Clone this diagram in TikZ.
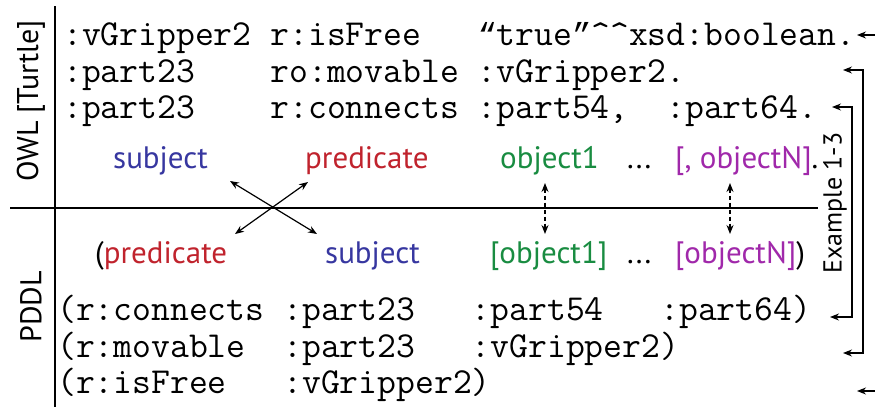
\documentclass[tikz,border=0pt]{standalone}
\usepackage{fontspec}
\setsansfont{PT Sans}
\newfontfamily\qfont{Liberation Mono}
\usetikzlibrary{arrows.meta}
\definecolor{cblue}{RGB}{55,55,160}
\definecolor{cred}{RGB}{192,35,45}
\definecolor{cgreen}{RGB}{25,140,65}
\definecolor{cpurple}{RGB}{160,40,170}
\newcommand{\myLQ}{{\qfont\fontsize{31.8}{40}\selectfont “}}
\newcommand{\myRQ}{{\qfont\fontsize{31.8}{40}\selectfont ”}}
\begin{document}
\begin{tikzpicture}[x=1pt,y=-1pt,
  code/.style={font=\ttfamily\fontsize{36.6}{40}\selectfont, anchor=base west, inner sep=0pt},
  lab/.style={font=\sffamily\fontsize{31}{34}\selectfont, anchor=base west, inner sep=0pt},
  side/.style={font=\sffamily\fontsize{30}{32}\selectfont, rotate=90, inner sep=0pt},
  rule/.style={line width=1.6pt},
  arr/.style={line width=1.2pt, {Stealth[length=9pt,width=7pt]}-{Stealth[length=9pt,width=7pt]}},
  darr/.style={line width=1.2pt, dash pattern=on 4pt off 3pt, {Stealth[length=9pt,width=7pt]}-{Stealth[length=9pt,width=7pt]}},
  brk/.style={line width=1.2pt, -{Stealth[length=9pt,width=7pt]}}]
\useasboundingbox (0,0) rectangle (875,407);
% frame lines
\coordinate (vt) at (55,6); \coordinate (vb) at (55,407);
\coordinate (hl) at (10,208); \coordinate (hr) at (818,208);
\draw[rule] (vt) -- (vb);
\draw[rule] (hl) -- (hr);
% side labels
\node[side] (owl) at (31,101) {OWL [Turtle]};
\node[side] (pddl) at (31,307) {PDDL};
\node[side, font=\sffamily\fontsize{26}{28}\selectfont] (ex) at (835,203) {Example 1-3};
% OWL rows
\node[code] (o1) at (63,45) {:vGripper2 r:isFree~~~\myLQ true\myRQ\textasciicircum\textasciicircum xsd:boolean.};
\node[code] (o2) at (63,82) {:part23~~~~ro:movable :vGripper2.};
\node[code] (o3) at (63,118) {:part23~~~~r:connects :part54,~~:part64.};
% PDDL rows
\node[code] (p1) at (57,320) {(r:connects :part23~~~:part54~~~:part64)};
\node[code] (p2) at (57,357) {(r:movable~~:part23~~~:vGripper2)};
\node[code] (p3) at (57,393) {(r:isFree~~~:vGripper2)};
% OWL labels
\node[lab, text=cblue] (osub) at (113,168) {subject};
\node[lab, text=cred] (opred) at (305,168) {predicate};
\node[lab, text=cgreen] (oobj) at (500,168) {object1};
\node[lab] (odots) at (627,168) {...};
\node[lab] (objn) at (675,168) {\textcolor{cpurple}{[, objectN]}.};
% PDDL labels
\node[lab] (ppred) at (95,263) {(\textcolor{cred}{predicate}};
\node[lab, text=cblue] (psub) at (325,263) {subject};
\node[lab, text=cgreen] (pobj) at (490,263) {[object1]};
\node[lab] (pdots) at (627,263) {...};
\node[lab] (pobjn) at (675,263) {\textcolor{cpurple}{[objectN]})};
% cross arrows
\coordinate (a1) at (230,181); \coordinate (a2) at (317,234);
\coordinate (b1) at (308,182); \coordinate (b2) at (235,234);
\draw[arr] (a1) -- (a2);
\draw[arr] (b1) -- (b2);
% dashed arrows
\coordinate (d1t) at (545,183); \coordinate (d1b) at (545,234);
\coordinate (d2t) at (730,183); \coordinate (d2b) at (730,234);
\draw[darr] (d1t) -- (d1b);
\draw[darr] (d2t) -- (d2b);
% right brackets
\coordinate (r1s) at (875,35); \coordinate (r1e) at (857,35);
\draw[brk] (r1s) -- (r1e);
\coordinate (r6s) at (875,391); \coordinate (r6e) at (857,391);
\draw[brk] (r6s) -- (r6e);
\coordinate (r2a) at (843,70); \coordinate (r2b) at (843,353);
\draw[brk] (863,211) |- (r2a);
\draw[brk] (863,211) |- (r2b);
\coordinate (r3a) at (832,107); \coordinate (r3b) at (830,317);
\draw[brk] (852,212) |- (r3a);
\draw[brk] (852,212) |- (r3b);
\end{tikzpicture}
\end{document}
